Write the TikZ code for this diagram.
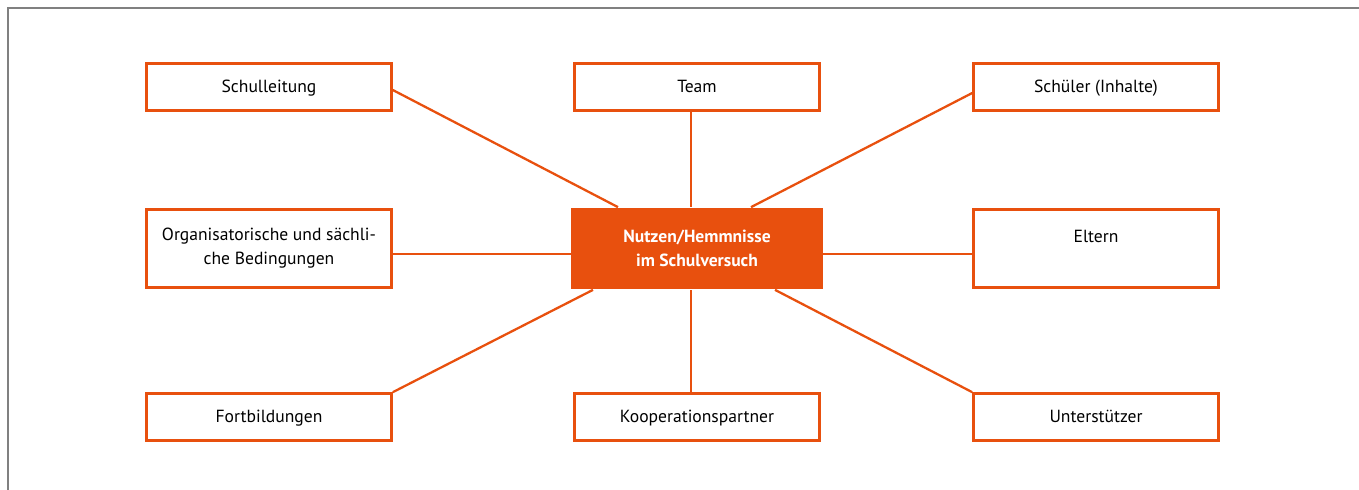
\documentclass[tikz,border=0pt]{standalone}
\usepackage{fontspec}
\setmainfont{PT Sans}
\usetikzlibrary{calc}

\definecolor{hsorange}{RGB}{232,80,14}
\definecolor{rahmengrau}{RGB}{128,128,128}

\begin{document}
\begin{tikzpicture}[
		x=0.02cm, y=-0.02cm,
		every node/.style={font=\fontsize{10}{13.6}\selectfont},
		feld/.style={draw=hsorange, line width=1.5pt, fill=white, align=center,
			minimum width=4.9cm, minimum height=0.94cm, inner sep=0pt,
			text height=1.6ex, text depth=0.4ex},
		hoch/.style={feld, minimum height=1.56cm, text height=, text depth=},
		mitte/.style={fill=hsorange, text=white, align=center, font=\fontsize{10}{13.6}\selectfont\bfseries,
			minimum width=5.04cm, minimum height=1.64cm, inner sep=0pt},
		linie/.style={draw=hsorange, line width=1.3pt}
	]
  \useasboundingbox (0,0) rectangle (1359,490);
  \draw[rahmengrau, line width=1.1pt] (1359,8) -- (8,8) -- (8,490);

  \node (nutzen) [mitte] at (697,248.5) {Nutzen/Hemmnisse\\im Schulversuch};

  \node (schulleitung) [feld] at (269,87) {Schulleitung};
  \node (team) [feld] at (697,87) {Team};
  \node (schueler) [feld] at (1096,87) {Schüler (Inhalte)};
  \node (orga) [hoch] at (269,248.5) {Organisatorische und sächli-\\che Bedingungen};
  \node (eltern) [hoch] at (1096,248.5) {Eltern\\~};
  \node (fortbildung) [feld] at (269,417) {Fortbildungen};
  \node (kooperation) [feld] at (697,417) {Kooperationspartner};
  \node (unterstuetzer) [feld] at (1096,417) {Unterstützer};

  \draw[linie] ($(schulleitung.east)+(0,3)$) -- ($(nutzen.north)+(-79,0)$);
  \draw[linie] ($(team.south)+(-6,0)$) -- ($(nutzen.north)+(-6,0)$);
  \draw[linie] ($(schueler.west)+(0,6)$) -- ($(nutzen.north)+(54,0)$);
  \draw[linie] ($(orga.east)+(0,5.5)$) -- ($(nutzen.west)+(0,5.5)$);
  \draw[linie] ($(eltern.west)+(0,5.5)$) -- ($(nutzen.east)+(0,5.5)$);
  \draw[linie] (fortbildung.north east) -- ($(nutzen.south)+(-104,0)$);
  \draw[linie] ($(kooperation.north)+(-6,0)$) -- ($(nutzen.south)+(-6,0)$);
  \draw[linie] (unterstuetzer.north west) -- ($(nutzen.south)+(78,0)$);
\end{tikzpicture}
\end{document}
